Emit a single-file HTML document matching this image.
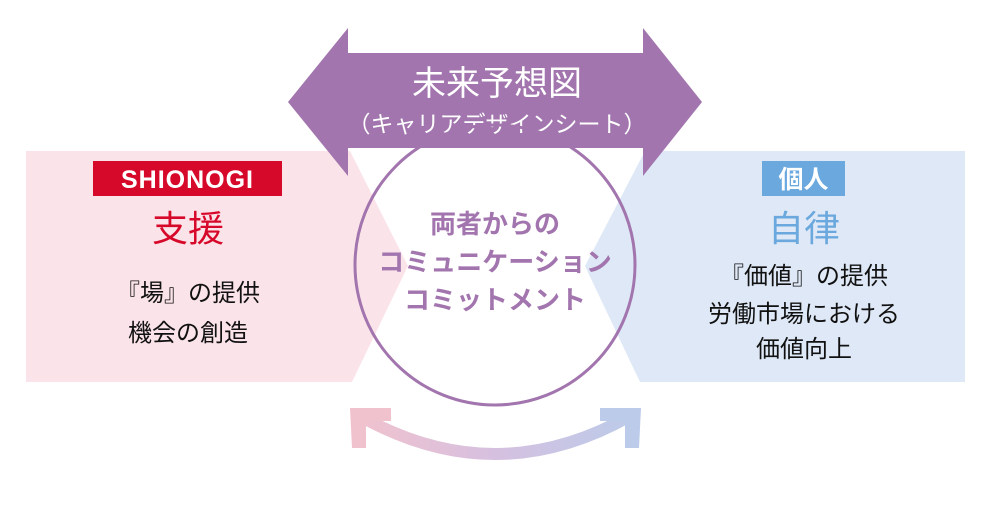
<!DOCTYPE html>
<html><head><meta charset="utf-8"><style>
html,body{margin:0;padding:0;background:#fff;}
svg{display:block;}
text{font-family:"Liberation Sans","Noto Sans CJK JP",sans-serif;}
</style></head><body>
<svg width="994" height="508" viewBox="0 0 994 508" xmlns="http://www.w3.org/2000/svg">
<defs>
<linearGradient id="g" x1="0" x2="1" y1="0" y2="0">
<stop offset="0" stop-color="#f0c2ce"/><stop offset="0.5" stop-color="#d6c0e0"/><stop offset="1" stop-color="#bccbe9"/>
</linearGradient>
</defs>
<polygon points="26,151 350,151 408,266 352,382 26,382" fill="#fbe4e9"/>
<polygon points="965,151 645,151 585,266 640,382 965,382" fill="#dee8f6"/>
<polygon points="288,102 348,28 348,53 643,53 643,28 702,102 643,176 643,148 348,148 348,176" fill="#a275ae"/>
<text x="497" y="95" font-size="34" fill="#fff" text-anchor="middle">未来予想図</text>
<text x="497" y="132" font-size="23" fill="#fff" text-anchor="middle">（キャリアデザインシート）</text>
<circle cx="495" cy="265" r="140" fill="none" stroke="#a275ae" stroke-width="3"/>
<g font-size="26" font-weight="bold" fill="#a275ae" text-anchor="middle">
<text x="495" y="233">両者からの</text>
<text x="495" y="271">コミュニケーション</text>
<text x="495" y="309">コミットメント</text>
</g>
<path d="M360,416 Q495,492 630,416" fill="none" stroke="url(#g)" stroke-width="12"/>
<polygon points="350,408 391,408 391,421 366,421 366,448 352,448" fill="#f0c2ce"/>
<polygon points="641,408 600,408 600,421 625,421 625,448 639,448" fill="#bccbe9"/>
<rect x="93" y="161" width="189" height="35" fill="#d7092a"/>
<text x="187.5" y="188" font-size="25" font-weight="bold" fill="#fff" text-anchor="middle" letter-spacing="1">SHIONOGI</text>
<text x="188" y="241" font-size="36" fill="#d7092a" text-anchor="middle">支援</text>
<text x="188" y="301" font-size="24" fill="#111" text-anchor="middle">『場』の提供</text>
<text x="188" y="341" font-size="24" fill="#111" text-anchor="middle">機会の創造</text>
<rect x="762" y="161" width="83" height="35" fill="#6aa8de"/>
<text x="803.5" y="188" font-size="25" font-weight="bold" fill="#fff" text-anchor="middle">個人</text>
<text x="804" y="241" font-size="36" fill="#6aa8de" text-anchor="middle">自律</text>
<text x="804" y="284" font-size="24" fill="#111" text-anchor="middle">『価値』の提供</text>
<text x="804" y="322" font-size="24" fill="#111" text-anchor="middle">労働市場における</text>
<text x="804" y="357" font-size="24" fill="#111" text-anchor="middle">価値向上</text>
</svg>
</body></html>
